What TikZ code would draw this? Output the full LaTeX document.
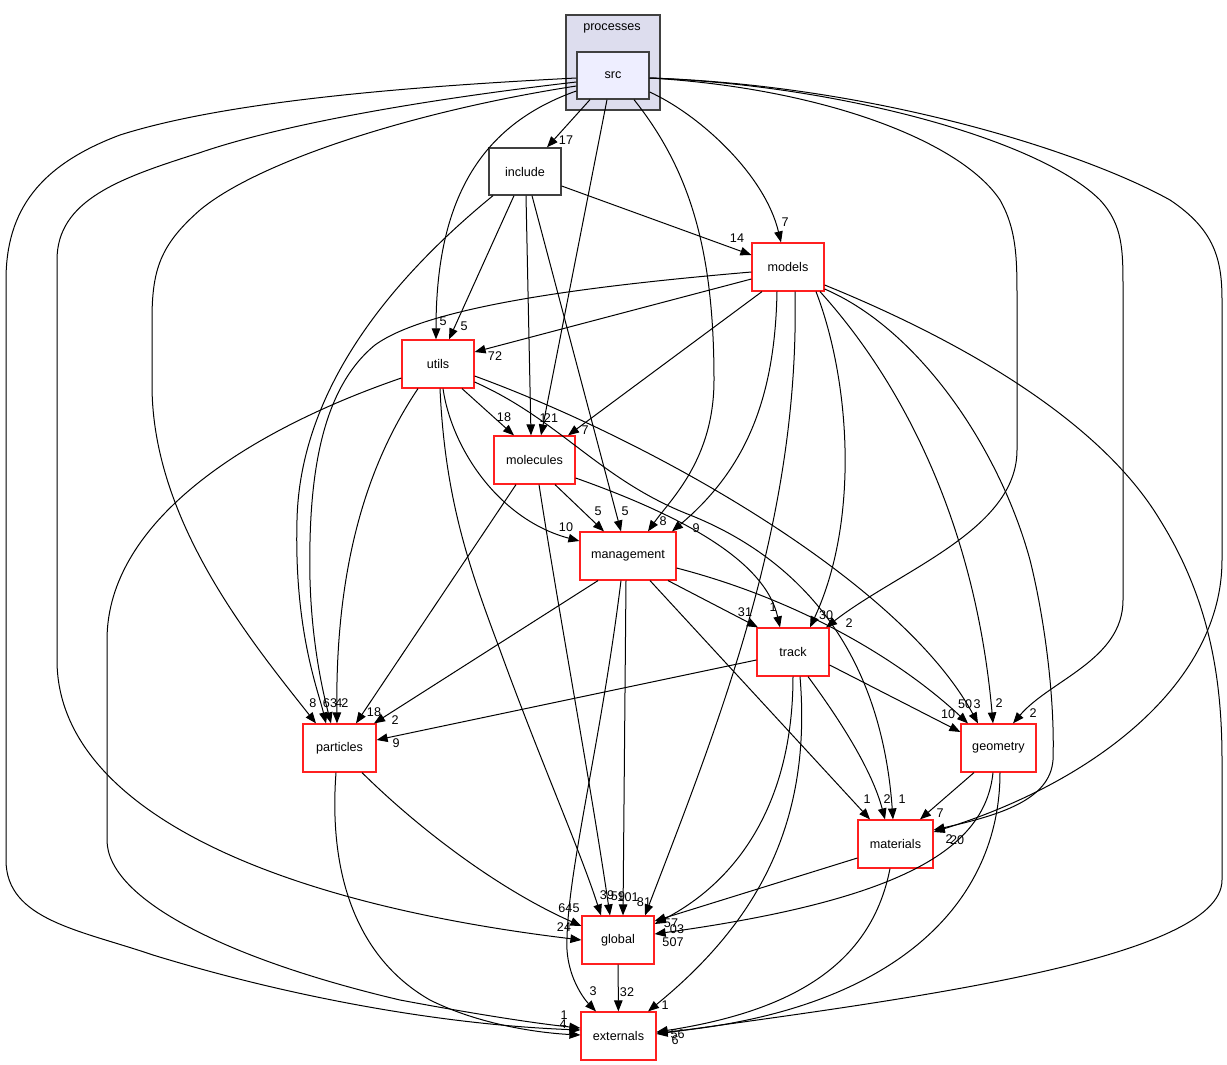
\documentclass[tikz,border=0pt]{standalone}
\usepackage{fontspec}
\setmainfont{Liberation Sans}
\usetikzlibrary{arrows.meta}
\definecolor{clfill}{HTML}{DDDDEE}
\definecolor{srcfill}{HTML}{EEEEFF}
\definecolor{dkgray}{HTML}{404040}
\definecolor{bred}{HTML}{FF2020}
\begin{document}
\begin{tikzpicture}[x=1pt,y=-1pt,
  txt/.style={font=\fontsize{12.6}{14}\selectfont},
  box/.style={txt,draw=bred,line width=1.2pt,fill=white,minimum width=#1,minimum height=48pt,inner sep=0},
  gbox/.style={txt,draw=dkgray,line width=1.3pt,fill=white,minimum width=#1,minimum height=47pt,inner sep=0},
  lbl/.style={txt,inner sep=0},
  e/.style={line width=1pt,-{Triangle[length=11pt,width=8.5pt]}}]
\useasboundingbox (0,0) rectangle (1227,1065);
% cluster
\node[draw=dkgray,line width=1.3pt,fill=clfill,minimum width=94pt,minimum height=95pt,inner sep=0] (proc) at (613,62.5) {};
\node[lbl] (proclbl) at (612,28) {processes};
% nodes
\node[gbox=72pt,fill=srcfill] (src) at (613,75.5) {src};
\node[gbox=72pt] (include) at (525,171.5) {include};
\node[box=72pt] (models) at (788,267) {models};
\node[box=72pt] (utils) at (438,364) {utils};
\node[box=81pt] (molecules) at (534.5,460) {molecules};
\node[box=96pt] (management) at (628,556) {management};
\node[box=72pt] (track) at (793,652) {track};
\node[box=75pt] (geometry) at (998.5,748) {geometry};
\node[box=75pt] (materials) at (895.5,844) {materials};
\node[box=73pt] (particles) at (339.5,748) {particles};
\node[box=72pt] (global) at (618,940) {global};
\node[box=75pt] (externals) at (618.5,1036) {externals};
% edges from src
\draw[e] (src.south -| 590,0) -- (include.north -| 547,0);
\draw[e] (src.east |- 0,92) .. controls (700,115) and (765,175) .. (models.north -| 781,0);
\draw[e] (src.west |- 0,91) .. controls (480,125) and (436,200) .. (utils.north -| 436,0);
\draw[e] (src.south -| 607,0) -- (molecules.north -| 541,0);
\draw[e] (src.south -| 634,0) .. controls (690,170) and (714,250) .. (714,380) .. controls (714,460) and (670,500) .. (management.north -| 648,0);
\draw[e] (src.east |- 0,78) .. controls (820,88) and (960,140) .. (1000,200) .. controls (1017,230) and (1017,260) .. (1017,300) -- (1017,450) .. controls (1017,530) and (900,570) .. (track.north -| 826,0);
\draw[e] (src.east |- 0,78) .. controls (840,85) and (1040,140) .. (1100,200) .. controls (1123,225) and (1123,250) .. (1123,290) -- (1123,600) .. controls (1123,660) and (1050,680) .. (geometry.north -| 1013,0);
\draw[e] (src.east |- 0,78) .. controls (870,85) and (1080,150) .. (1170,200) .. controls (1215,230) and (1222,260) .. (1222,300) -- (1222,560) .. controls (1222,680) and (1100,780) .. (materials.east |- 0,832);
\draw[e] (src.west |- 0,86) .. controls (420,110) and (260,160) .. (200,210) .. controls (160,245) and (152,270) .. (152,320) -- (152,385) .. controls (152,520) and (250,640) .. (particles.north -| 316,0);
\draw[e] (src.west |- 0,82) .. controls (420,100) and (280,125) .. (199,153) .. controls (120,178) and (57,200) .. (57,260) -- (57,660) .. controls (57,800) and (250,900) .. (global.west |- 0,940);
\draw[e] (src.west |- 0,78) .. controls (420,86) and (230,100) .. (120,135) .. controls (40,165) and (6,210) .. (6,280) -- (6,860) .. controls (6,920) and (80,930) .. (153,955) .. controls (300,1000) and (450,1025) .. (externals.west |- 0,1030);
% include
\draw[e] (include.east |- 0,186) -- (models.west |- 0,255);
\draw[e] (include.south -| 514,0) -- (utils.north -| 449,0);
\draw[e] (include.south -| 526,0) -- (molecules.north -| 531,0);
\draw[e] (include.south -| 532,0) -- (management.north -| 621,0);
\draw[e] (include.south -| 493,0) .. controls (390,280) and (300,390) .. (297,520) .. controls (294,630) and (318,690) .. (particles.north -| 326,0);
% models
\draw[e] (models.west |- 0,279) -- (utils.east |- 0,352);
\draw[e] (models.south -| 762,0) -- (molecules.north -| 568,0);
\draw[e] (models.south -| 777,0) .. controls (775,400) and (745,470) .. (management.north -| 672,0);
\draw[e] (models.west |- 0,272) .. controls (600,285) and (430,305) .. (375,345) .. controls (320,390) and (308,480) .. (310,580) .. controls (312,650) and (325,700) .. (particles.north -| 331,0);
\draw[e] (models.south -| 795,0) .. controls (800,520) and (720,720) .. (global.north -| 645,0);
\draw[e] (models.south -| 816,0) .. controls (850,380) and (860,520) .. (track.north -| 810,0);
\draw[e] (models.south -| 820,0) .. controls (900,380) and (975,520) .. (geometry.north -| 993,0);
\draw[e] (models.east |- 0,289) .. controls (920,330) and (1000,450) .. (1030,560) .. controls (1045,620) and (1055,700) .. (1053,760) .. controls (1050,800) and (1000,815) .. (materials.east |- 0,830);
\draw[e] (models.east |- 0,285) .. controls (960,340) and (1100,420) .. (1160,520) .. controls (1210,600) and (1222,680) .. (1222,760) -- (1222,880) .. controls (1222,960) and (900,1000) .. (externals.east |- 0,1034);
% utils
\draw[e] (utils.south -| 462,0) -- (molecules.north -| 514,0);
\draw[e] (utils.south -| 443,0) .. controls (452,450) and (500,520) .. (management.west |- 0,541);
\draw[e] (utils.south -| 418,0) .. controls (370,460) and (335,560) .. (particles.north -| 337,0);
\draw[e] (utils.south -| 440,0) .. controls (445,500) and (470,570) .. (500,650) .. controls (540,760) and (580,850) .. (global.north -| 601,0);
\draw[e] (utils.west |- 0,378) .. controls (250,430) and (107,520) .. (107,640) -- (107,840) .. controls (107,900) and (230,960) .. (400,1000) .. controls (480,1015) and (540,1024) .. (externals.west |- 0,1028);
\draw[e] (utils.east |- 0,376) .. controls (650,440) and (900,580) .. (geometry.north -| 978,0);
\draw[e] (utils.east |- 0,382) .. controls (560,420) and (600,480) .. (690,515) .. controls (790,555) and (880,640) .. (materials.north -| 893,0);
% molecules
\draw[e] (molecules.south -| 555,0) -- (management.north -| 604,0);
\draw[e] (molecules.south -| 516,0) -- (particles.north -| 356,0);
\draw[e] (molecules.south -| 539,0) .. controls (560,620) and (590,780) .. (global.north -| 610,0);
\draw[e] (molecules.east |- 0,478) .. controls (680,515) and (765,560) .. (track.north -| 780,0);
% management
\draw[e] (management.south -| 598,0) -- (particles.north -| 374,0);
\draw[e] (management.south -| 668,0) -- (track.north -| 758,0);
\draw[e] (management.east |- 0,568) .. controls (800,600) and (900,660) .. (geometry.north -| 968,0);
\draw[e] (management.south -| 650,0) -- (materials.north -| 870,0);
\draw[e] (management.south -| 626,0) -- (global.north -| 623,0);
\draw[e] (management.south -| 621,0) .. controls (600,750) and (565,880) .. (567,950) .. controls (569,980) and (585,1000) .. (externals.north -| 596,0);
% track
\draw[e] (track.west |- 0,660) -- (particles.east |- 0,740);
\draw[e] (track.east |- 0,665) -- (geometry.west |- 0,732);
\draw[e] (track.south -| 808,0) .. controls (840,720) and (872,770) .. (materials.north -| 885,0);
\draw[e] (track.south -| 793,0) .. controls (793,800) and (740,880) .. (global.east |- 0,924);
\draw[e] (track.south -| 800,0) .. controls (812,820) and (760,920) .. (externals.north -| 648,0);
% particles
\draw[e] (particles.south -| 362,0) .. controls (420,830) and (500,890) .. (global.west |- 0,926);
\draw[e] (particles.south -| 336,0) .. controls (328,880) and (360,960) .. (430,1000) .. controls (480,1025) and (540,1033) .. (externals.west |- 0,1035);
% geometry
\draw[e] (geometry.south -| 974,0) -- (materials.north -| 920,0);
\draw[e] (geometry.south -| 993,0) .. controls (985,850) and (900,900) .. (global.east |- 0,934);
\draw[e] (geometry.south -| 1000,0) .. controls (1000,900) and (900,1010) .. (externals.east |- 0,1033);
% materials
\draw[e] (materials.west |- 0,858) -- (global.east |- 0,921);
\draw[e] (materials.south -| 890,0) .. controls (872,960) and (800,1010) .. (externals.east |- 0,1032);
% global
\draw[e] (global) -- (externals);
% labels
\node[lbl] (l1) at (566,140) {17};
\node[lbl] (l2) at (785,222) {7};
\node[lbl] (l3) at (737,238) {14};
\node[lbl] (l4) at (443,321) {5};
\node[lbl] (l5) at (464,326) {5};
\node[lbl] (l6) at (495,356) {72};
\node[lbl] (l7) at (504,417) {18};
\node[lbl] (l8) at (543,418) {1};
\node[lbl] (l9) at (551,418) {21};
\node[lbl] (l10) at (585,430) {7};
\node[lbl] (l11) at (598,511) {5};
\node[lbl] (l12) at (625,511) {5};
\node[lbl] (l13) at (566,527) {10};
\node[lbl] (l14) at (663,521) {8};
\node[lbl] (l15) at (696,528) {9};
\node[lbl] (l16) at (745,612) {31};
\node[lbl] (l17) at (773,607) {1};
\node[lbl] (l18) at (826,615) {30};
\node[lbl] (l19) at (849,623) {2};
\node[lbl] (l20) at (965,704) {50};
\node[lbl] (l21) at (977,704) {3};
\node[lbl] (l22) at (999,703) {2};
\node[lbl] (l23) at (1033,713) {2};
\node[lbl] (l24) at (948,714) {10};
\node[lbl] (l25) at (940,813) {7};
\node[lbl] (l26) at (957,840) {20};
\node[lbl] (l27) at (949,839) {2};
\node[lbl] (l28) at (867,799) {1};
\node[lbl] (l29) at (887,799) {2};
\node[lbl] (l30) at (902,799) {1};
\node[lbl] (l31) at (313,703) {8};
\node[lbl] (l32) at (330,703) {63};
\node[lbl] (l33) at (339,703) {4};
\node[lbl] (l34) at (345,703) {2};
\node[lbl] (l35) at (374,712) {18};
\node[lbl] (l36) at (395,720) {2};
\node[lbl] (l37) at (396,743) {9};
\node[lbl] (l38) at (569,908) {645};
\node[lbl] (l39) at (564,927) {24};
\node[lbl] (l40) at (607,895) {39};
\node[lbl] (l41) at (618,896) {59};
\node[lbl] (l42) at (628,897) {101};
\node[lbl] (l43) at (644,902) {81};
\node[lbl] (l44) at (671,923) {57};
\node[lbl] (l45) at (677,929) {03};
\node[lbl] (l46) at (673,942) {507};
\node[lbl] (l47) at (593,991) {3};
\node[lbl] (l48) at (627,992) {32};
\node[lbl] (l49) at (665,1005) {1};
\node[lbl] (l50) at (564,1015) {1};
\node[lbl] (l51) at (563,1024) {4};
\node[lbl] (l52) at (674,1034) {5};
\node[lbl] (l53) at (681,1034) {6};
\node[lbl] (l54) at (675,1040) {6};
\end{tikzpicture}
\end{document}
